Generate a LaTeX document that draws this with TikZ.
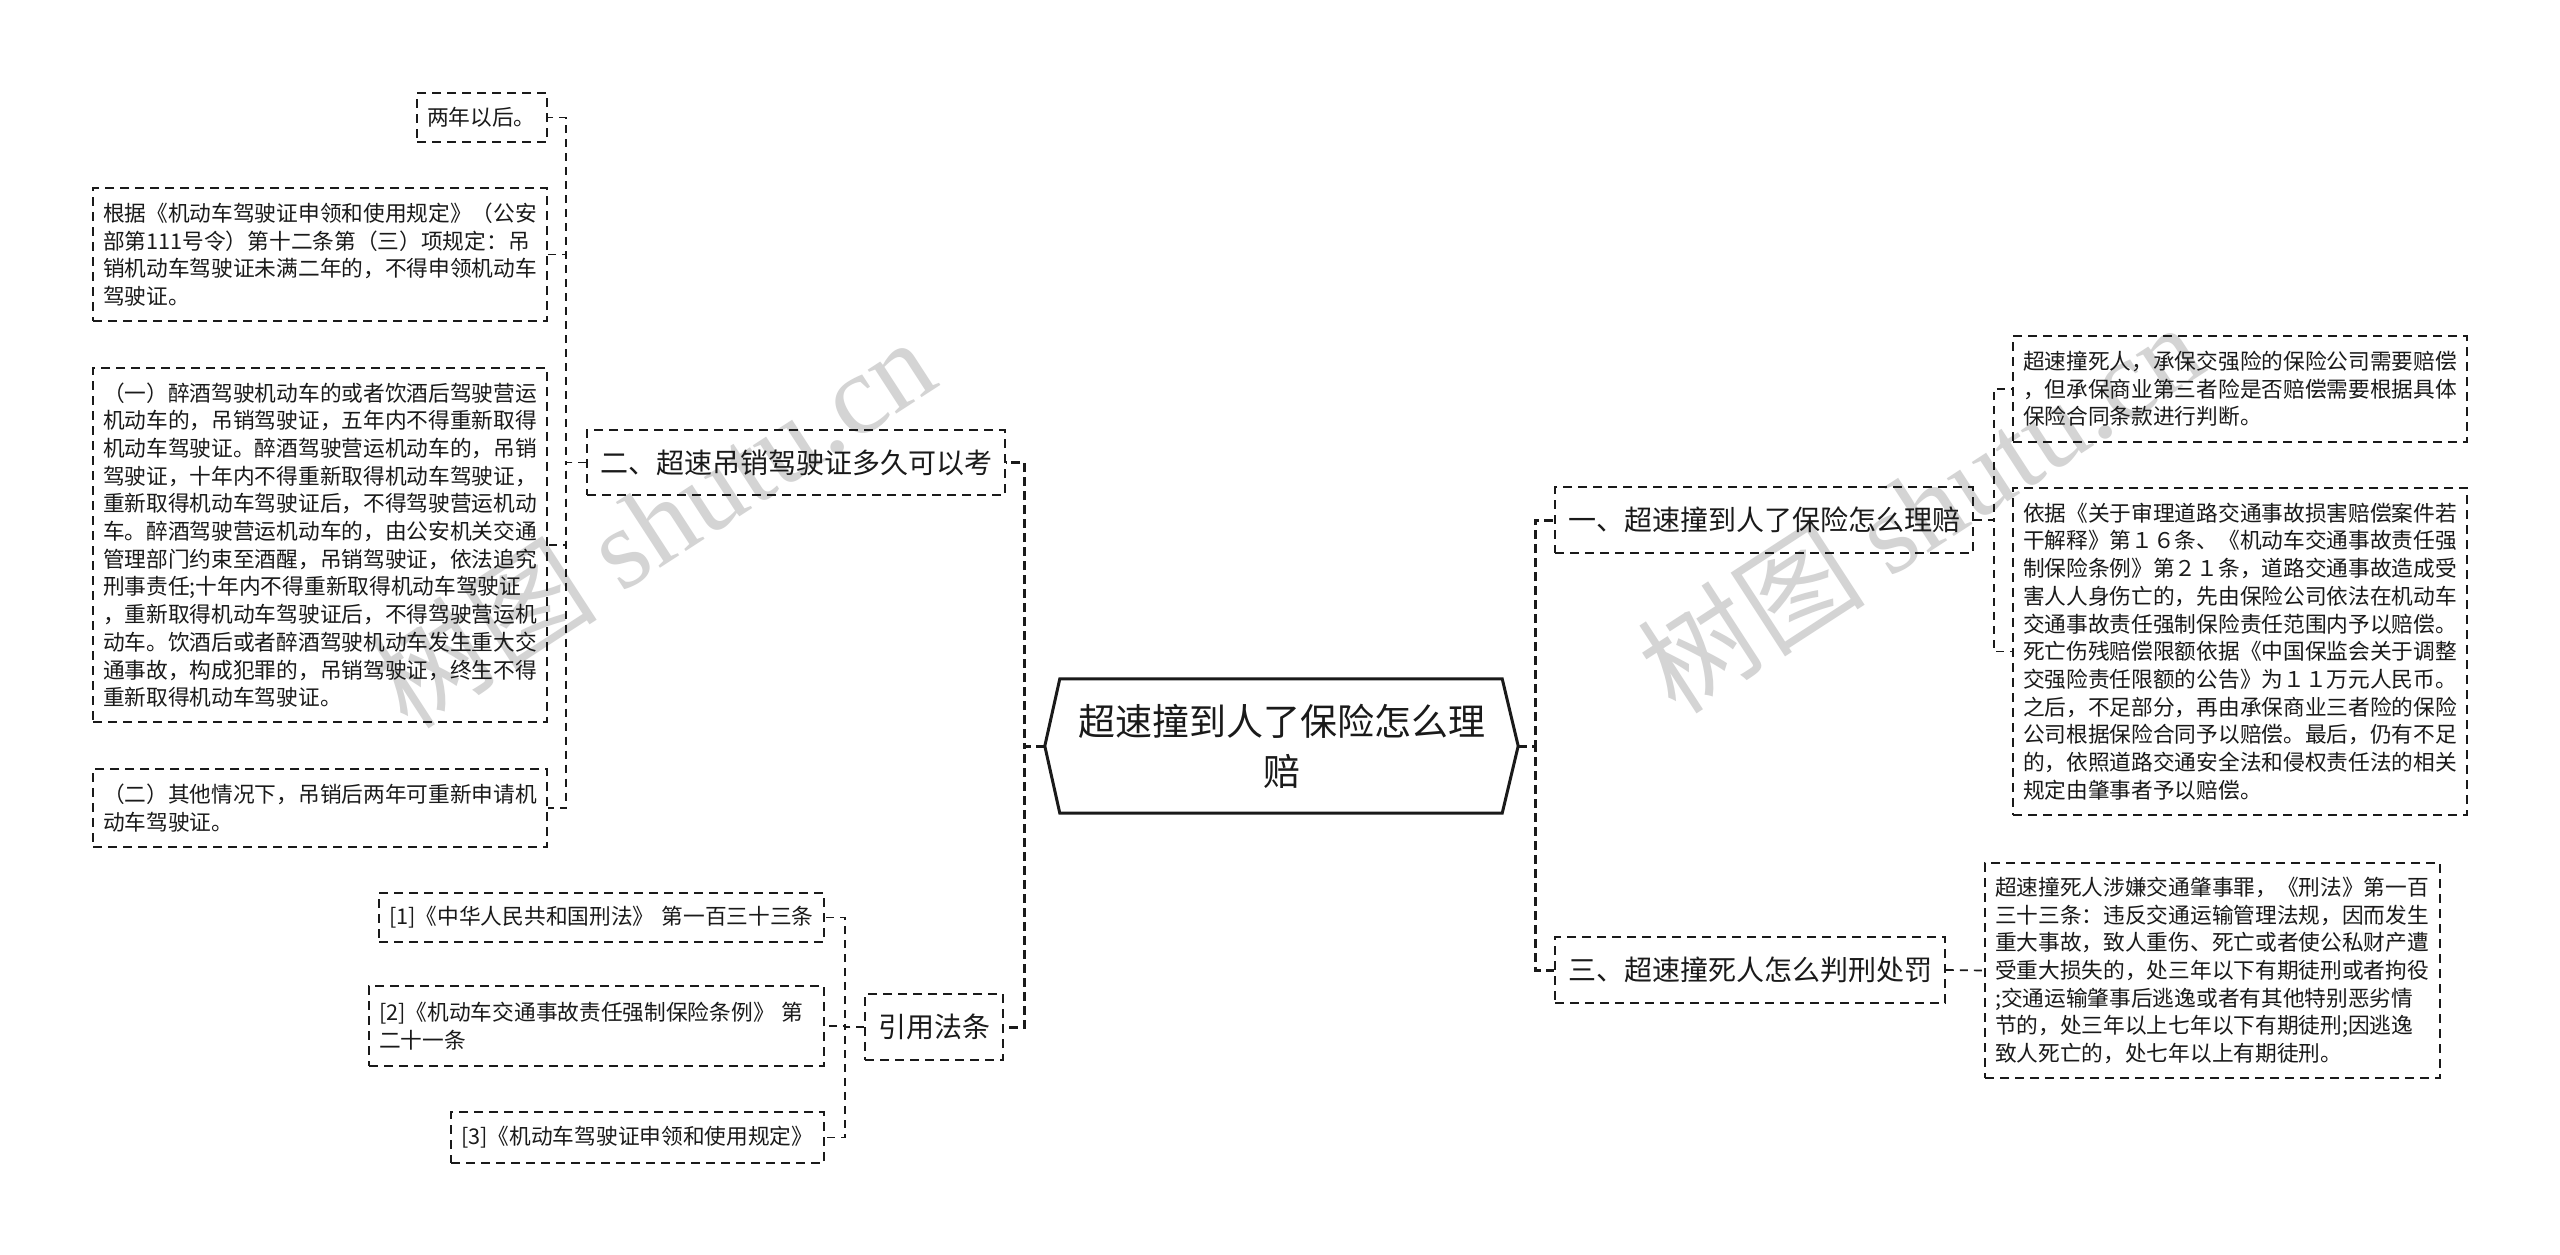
\documentclass[tikz,border=0pt]{standalone}
\usepackage{fontspec}
\newfontfamily\cjk{Noto Sans CJK SC}
\newfontfamily\wmserif{Liberation Serif}
\definecolor{wm}{RGB}{212,212,212}
\definecolor{ink}{RGB}{26,26,26}
\begin{document}
\begin{tikzpicture}[x=1pt,y=-1pt,
  box/.style={draw=ink, text=ink, line width=1.8pt, dash pattern=on 9pt off 6pt, inner xsep=10pt, inner ysep=0pt, align=left},
  leaf/.style={box, font=\cjk\fontsize{21.7pt}{27.7pt}\selectfont},
  branchbox/.style={box, inner xsep=13pt, align=center, font=\cjk\fontsize{28pt}{34pt}\selectfont},
  link/.style={draw=ink, line width=1.7pt, dash pattern=on 8pt off 6pt},
  trunk/.style={draw=ink, line width=3pt, dash pattern=on 9pt off 5pt},
  wmark/.style={text=wm, rotate=33, inner sep=0pt}
]
\fill[white] (0,0) rectangle (2560,1255);
\useasboundingbox (0,0) rectangle (2560,1255);

% watermarks
\node[wmark] (wmL) at (652,522) {\fontsize{114pt}{120pt}\cjk 树图 \wmserif shutu.cn};
\node[wmark] (wmR) at (1920,507) {\fontsize{114pt}{120pt}\cjk 树图 \wmserif shutu.cn};

% center
\node[inner sep=0pt, minimum width=473pt, minimum height=134pt, align=center, text=ink,
  font=\cjk\fontsize{37pt}{50pt}\selectfont] (c) at (1281.5,746) {超速撞到人了保险怎么理\\赔};
\draw[ink, line width=3pt, line join=miter]
  ([xshift=15pt]c.north west) -- ([xshift=-16pt]c.north east) -- (c.east)
  -- ([xshift=-16pt]c.south east) -- ([xshift=15pt]c.south west) -- (c.west) -- cycle;

% left side
\node[branchbox, text width=392pt, minimum height=65pt] (b2) at (796,462.5) {二、超速吊销驾驶证多久可以考};
\node[branchbox, text width=112pt, minimum height=66pt] (b4) at (934,1027) {引用法条};

\node[leaf, text width=110pt, minimum height=49pt] (l1) at (482,117.5) {两年以后。};
\node[leaf, text width=434pt, minimum height=133pt] (l2) at (320,254.5) {根据《机动车驾驶证申领和使用规定》（公安\\
部第111号令）第十二条第（三）项规定：吊\\
销机动车驾驶证未满二年的，不得申领机动车\\
驾驶证。};
\node[leaf, text width=434pt, minimum height=354pt] (l3) at (320,545) {（一）醉酒驾驶机动车的或者饮酒后驾驶营运\\
机动车的，吊销驾驶证，五年内不得重新取得\\
机动车驾驶证。醉酒驾驶营运机动车的，吊销\\
驾驶证，十年内不得重新取得机动车驾驶证，\\
重新取得机动车驾驶证后，不得驾驶营运机动\\
车。醉酒驾驶营运机动车的，由公安机关交通\\
管理部门约束至酒醒，吊销驾驶证，依法追究\\
刑事责任;十年内不得重新取得机动车驾驶证\\
，重新取得机动车驾驶证后，不得驾驶营运机\\
动车。饮酒后或者醉酒驾驶机动车发生重大交\\
通事故，构成犯罪的，吊销驾驶证，终生不得\\
重新取得机动车驾驶证。};
\node[leaf, text width=434pt, minimum height=78pt] (l4) at (320,808) {（二）其他情况下，吊销后两年可重新申请机\\
动车驾驶证。};

\node[leaf, anchor=east, text width=425pt, minimum height=49pt] (f1) at (825,917.5) {[1]《中华人民共和国刑法》 第一百三十三条};
\node[leaf, anchor=east, text width=435pt, minimum height=80pt] (f2) at (825,1026) {[2]《机动车交通事故责任强制保险条例》 第\\
二十一条};
\node[leaf, anchor=east, text width=353pt, minimum height=51pt] (f3) at (825,1137.5) {[3]《机动车驾驶证申领和使用规定》};

% right side
\node[branchbox, text width=392pt, minimum height=66pt] (b1) at (1764,520) {一、超速撞到人了保险怎么理赔};
\node[branchbox, text width=364pt, minimum height=66pt] (b3) at (1750,970) {三、超速撞死人怎么判刑处罚};

\node[leaf, text width=434pt, minimum height=106pt] (r1) at (2240,389) {超速撞死人，承保交强险的保险公司需要赔偿\\
，但承保商业第三者险是否赔偿需要根据具体\\
保险合同条款进行判断。};
\node[leaf, text width=434pt, minimum height=327pt] (r2) at (2240,651.5) {依据《关于审理道路交通事故损害赔偿案件若\\
干解释》第１６条、《机动车交通事故责任强\\
制保险条例》第２１条，道路交通事故造成受\\
害人人身伤亡的，先由保险公司依法在机动车\\
交通事故责任强制保险责任范围内予以赔偿。\\
死亡伤残赔偿限额依据《中国保监会关于调整\\
交强险责任限额的公告》为１１万元人民币。\\
之后，不足部分，再由承保商业三者险的保险\\
公司根据保险合同予以赔偿。最后，仍有不足\\
的，依照道路交通安全法和侵权责任法的相关\\
规定由肇事者予以赔偿。};
\node[leaf, text width=435pt, minimum height=215pt] (r3) at (2212.5,970.5) {超速撞死人涉嫌交通肇事罪，《刑法》第一百\\
三十三条：违反交通运输管理法规，因而发生\\
重大事故，致人重伤、死亡或者使公私财产遭\\
受重大损失的，处三年以下有期徒刑或者拘役\\
;交通运输肇事后逃逸或者有其他特别恶劣情\\
节的，处三年以上七年以下有期徒刑;因逃逸\\
致人死亡的，处七年以上有期徒刑。};

% connectors from center
\draw[trunk] (c.west) -- ++(-20pt,0) |- (b2.east);
\draw[trunk] (c.west) -- ++(-20pt,0) |- (b4.east);
\draw[trunk] (c.east) -- ++(17pt,0) |- (b1.west);
\draw[trunk] (c.east) -- ++(17pt,0) |- (b3.west);

% branch connectors
\foreach \n in {l1,l2,l3,l4} \draw[link] (b2.west) -- ++(-20pt,0) |- (\n.east);
\foreach \n in {f1,f2,f3} \draw[link] (b4.west) -- ++(-19pt,0) |- (\n.east);
\foreach \n in {r1,r2} \draw[link] (b1.east) -- ++(20pt,0) |- (\n.west);
\draw[link] (b3.east) -- (r3.west);
\end{tikzpicture}
\end{document}
